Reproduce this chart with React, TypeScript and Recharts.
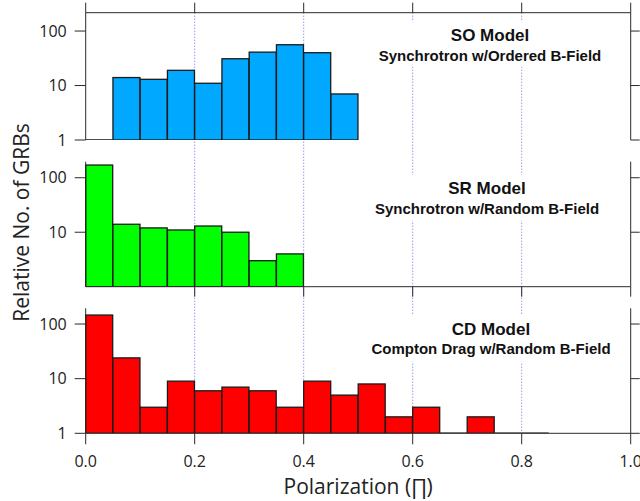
import React from 'react';
import { ComposedChart, Bar, XAxis, YAxis, CartesianGrid } from 'recharts';

// ---- data ----
const binStarts = [0.0, 0.05, 0.1, 0.15, 0.2, 0.25, 0.3, 0.35, 0.4, 0.45, 0.5, 0.55, 0.6, 0.65, 0.7, 0.75, 0.8, 0.85, 0.9, 0.95];
const soCounts: (number | null)[] = [1, 14, 13, 19, 11, 31, 41, 56, 40, 7, null, null, null, null, null, null, null, null, null, null];
const srCounts: (number | null)[] = [171, 14, 12, 11, 13, 10, 3, 4, null, null, null, null, null, null, null, null, null, null, null, null];
const cdCounts: (number | null)[] = [146, 24, 3, 9, 6, 7, 6, 3, 9, 5, 8, 2, 3, 1, 2, 1, 1, null, null, null];

const xTicksAll = [0, 0.2, 0.4, 0.6, 0.8, 1.0];
const xTicksNoZero = [0.2, 0.4, 0.6, 0.8, 1.0];
const gridTicks = [0.2, 0.4, 0.6, 0.8];
const yTicks3 = [1, 10, 100];
const yTicks2 = [10, 100];

const panelTitles = ['SO Model', 'SR Model', 'CD Model'];
const panelSubtitles = ['Synchrotron w/Ordered B-Field', 'Synchrotron w/Random B-Field', 'Compton Drag w/Random B-Field'];
const xTitle = 'Polarization (\u220F)';
const yTitle = 'Relative No. of GRBs';

const toRows = (counts: (number | null)[]) => binStarts.map((b, i) => ({ bin: b, value: counts[i] }));
const soRows = toRows(soCounts);
const srRows = toRows(srCounts);
const cdRows = toRows(cdCounts);
const gridRows = xTicksAll.map((x) => ({ x }));

const AXIS = '#2a2a2a';
const FONT = '"Open Sans", "DejaVu Sans", sans-serif';
const ANN_FONT = '"Liberation Sans", Arial, sans-serif';

const HistBar = (props: any) => {
  const { x, y, width, height, fill } = props;
  if (x == null || y == null || !isFinite(y) || !isFinite(height)) return null;
  if (Math.abs(height) < 0.6) {
    return <line x1={x} x2={x + width} y1={y} y2={y} stroke="#111" strokeWidth={1.5} />;
  }
  return <rect x={x} y={y} width={width} height={height} fill={fill} stroke="#1a1a1a" strokeWidth={1.3} />;
};

const L = 85.7;
const R = 9.3;
const empty = () => '';

const tickStyle = { fontSize: 16, fill: '#222', fontFamily: FONT };

function Annotation({ cx, top, bottom, titleY, subY, title, sub }: any) {
  const halfW = 124;
  return (
    <g>
      <rect x={cx - halfW} y={top} width={halfW * 2} height={bottom - top} fill="#fff" />
      <text x={cx} y={titleY} textAnchor="middle" fontFamily={ANN_FONT} fontWeight="bold" fontSize={17} fill="#111">{title}</text>
      <text x={cx} y={subY} textAnchor="middle" fontFamily={ANN_FONT} fontWeight="bold" fontSize={15} fill="#111">{sub}</text>
    </g>
  );
}

export default function App() {
  return (
    <div style={{ position: 'absolute', left: 0, top: 0, width: 640, height: 501, background: '#fff', fontFamily: FONT }}>
      {/* background vertical grid shared by all panels */}
      <div style={{ position: 'absolute', left: 0, top: 0 }}>
        <ComposedChart width={640} height={501} data={gridRows} margin={{ top: 12.7, right: R, bottom: 67.7, left: L }}>
          <XAxis dataKey="x" type="number" domain={[0, 1]} ticks={gridTicks} interval={0} height={0} axisLine={false} tickLine={false} tickFormatter={empty} allowDataOverflow />
          <YAxis type="number" domain={[0, 1]} width={0} axisLine={false} tickLine={false} tickFormatter={empty} />
          <CartesianGrid horizontal={false} syncWithTicks stroke="#6b6bff" strokeDasharray="1 2" strokeWidth={1} />
        </ComposedChart>
      </div>

      {/* annotation boxes */}
      <svg width={640} height={501} style={{ position: 'absolute', left: 0, top: 0 }}>
        <Annotation cx={490} top={21.7} bottom={66.7} titleY={40.7} subY={60.7} title={panelTitles[0]} sub={panelSubtitles[0]} />
        <Annotation cx={487} top={175} bottom={220.5} titleY={194} subY={214} title={panelTitles[1]} sub={panelSubtitles[1]} />
        <Annotation cx={491} top={315} bottom={361.7} titleY={335} subY={353.5} title={panelTitles[2]} sub={panelSubtitles[2]} />
        <text transform="translate(28.5,222.5) rotate(-90)" textAnchor="middle" fontFamily={FONT} fontSize={21} fill="#222">{yTitle}</text>
      </svg>

      {/* Panel 1: SO */}
      <div style={{ position: 'absolute', left: 0, top: 0 }}>
        <ComposedChart width={640} height={150} data={soRows} margin={{ top: 0, right: 0, bottom: 10, left: 0 }} barCategoryGap={0} barGap={0}>
          <XAxis xAxisId="cat" dataKey="bin" type="category" orientation="bottom" height={0} hide />
          <XAxis xAxisId="num" dataKey="bin" type="number" domain={[0, 1]} ticks={xTicksAll} interval={0} orientation="top" height={12.7} tickSize={10} tickFormatter={empty} axisLine={{ stroke: AXIS }} tickLine={{ stroke: AXIS }} allowDataOverflow />
          <YAxis yAxisId="l" scale="log" domain={[1, 217]} ticks={yTicks3} interval={0} allowDataOverflow width={L} tickSize={11} tickMargin={8} tick={tickStyle} axisLine={{ stroke: AXIS }} tickLine={{ stroke: AXIS }} />
          <YAxis yAxisId="r" orientation="right" scale="log" domain={[1, 217]} ticks={yTicks3} interval={0} allowDataOverflow width={R} tickSize={9} tickFormatter={empty} axisLine={{ stroke: AXIS }} tickLine={{ stroke: AXIS }} />
          <Bar xAxisId="cat" yAxisId="l" dataKey="value" fill="#00A8FF" shape={HistBar} isAnimationActive={false} />
        </ComposedChart>
      </div>

      {/* Panel 2: SR */}
      <div style={{ position: 'absolute', left: 0, top: 150 }}>
        <ComposedChart width={640} height={150} data={srRows} margin={{ top: 11.7, right: 0, bottom: 0, left: 0 }} barCategoryGap={0} barGap={0}>
          <XAxis xAxisId="cat" dataKey="bin" type="category" orientation="top" height={0} hide />
          <XAxis xAxisId="num" dataKey="bin" type="number" domain={[0, 1]} ticks={xTicksNoZero} interval={0} orientation="bottom" height={13.3} tickSize={10} tickFormatter={empty} axisLine={{ stroke: AXIS }} tickLine={{ stroke: AXIS }} allowDataOverflow />
          <YAxis yAxisId="l" scale="log" domain={[1, 197]} ticks={yTicks2} interval={0} allowDataOverflow width={L} tickSize={11} tickMargin={8} tick={tickStyle} axisLine={{ stroke: AXIS }} tickLine={{ stroke: AXIS }} />
          <YAxis yAxisId="r" orientation="right" scale="log" domain={[1, 197]} ticks={yTicks2} interval={0} allowDataOverflow width={R} tickSize={9} tickFormatter={empty} axisLine={{ stroke: AXIS }} tickLine={{ stroke: AXIS }} />
          <Bar xAxisId="cat" yAxisId="l" dataKey="value" fill="#00FF00" shape={HistBar} isAnimationActive={false} />
        </ComposedChart>
      </div>

      {/* Panel 3: CD */}
      <div style={{ position: 'absolute', left: 0, top: 295 }}>
        <ComposedChart width={640} height={206} data={cdRows} margin={{ top: 13.3, right: 0, bottom: 0, left: 0 }} barCategoryGap={0} barGap={0}>
          <XAxis xAxisId="cat" dataKey="bin" type="category" orientation="top" height={0} hide />
          <XAxis
            xAxisId="num"
            dataKey="bin"
            type="number"
            domain={[0, 1]}
            ticks={xTicksAll}
            interval={0}
            orientation="bottom"
            height={67.7}
            tickSize={11}
            tickMargin={11}
            tick={tickStyle}
            tickFormatter={(v: number) => v.toFixed(1)}
            axisLine={{ stroke: AXIS }}
            tickLine={{ stroke: AXIS }}
            allowDataOverflow
            label={{ value: xTitle, position: 'insideBottom', offset: 7.5, fontSize: 21, fill: '#222', fontFamily: FONT }}
          />
          <YAxis yAxisId="l" scale="log" domain={[1, 194]} ticks={yTicks3} interval={0} allowDataOverflow width={L} tickSize={11} tickMargin={8} tick={tickStyle} axisLine={{ stroke: AXIS }} tickLine={{ stroke: AXIS }} />
          <YAxis yAxisId="r" orientation="right" scale="log" domain={[1, 194]} ticks={yTicks3} interval={0} allowDataOverflow width={R} tickSize={9} tickFormatter={empty} axisLine={{ stroke: AXIS }} tickLine={{ stroke: AXIS }} />
          <Bar xAxisId="cat" yAxisId="l" dataKey="value" fill="#FF0000" shape={HistBar} isAnimationActive={false} />
        </ComposedChart>
      </div>
    </div>
  );
}
